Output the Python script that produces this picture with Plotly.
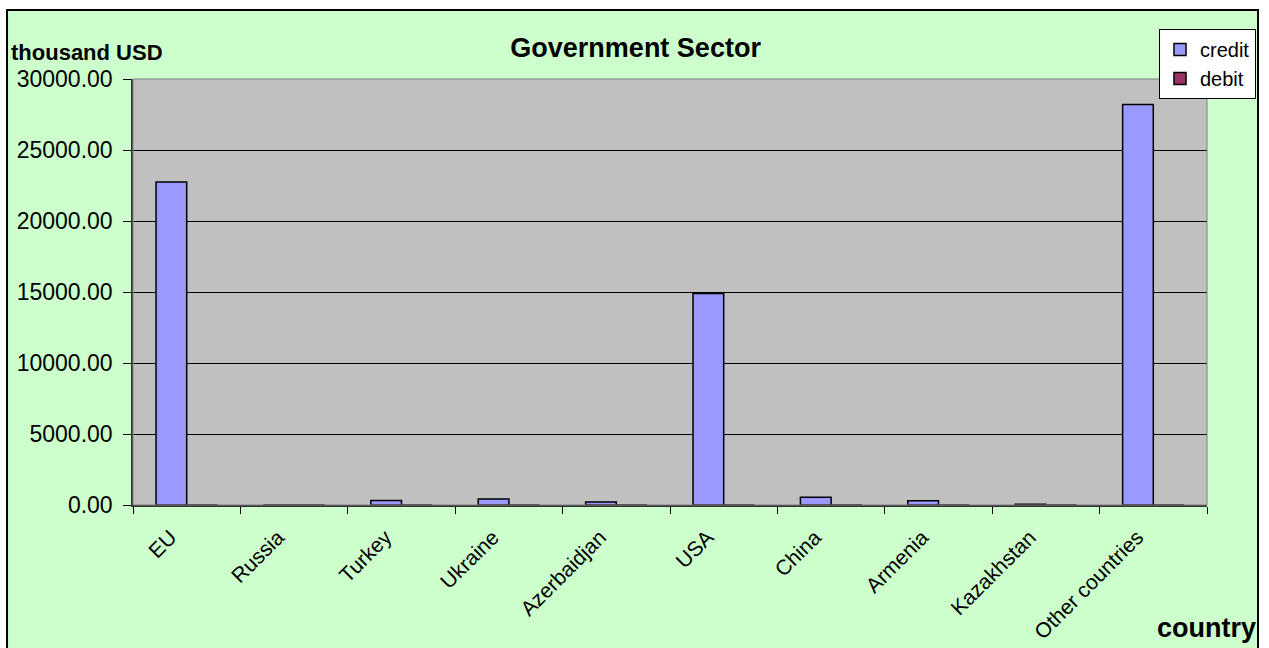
import plotly.graph_objects as go

# Government sector transfers by partner country, thousand USD
countries = ["EU", "Russia", "Turkey", "Ukraine", "Azerbaidjan", "USA",
             "China", "Armenia", "Kazakhstan", "Other countries"]
credit = [22750, 0, 310, 430, 220, 14900, 540, 300, 60, 28200]
debit = [0, 0, 0, 0, 0, 0, 0, 0, 0, 0]

y_ticks = [0, 5000, 10000, 15000, 20000, 25000, 30000]

FONT = "Arial, Liberation Sans, sans-serif"
GREEN = "#CCFFCC"
GREY = "#C0C0C0"

pos = list(range(len(countries)))
label_pos = [p - 0.15 for p in pos]          # labels sit just left of each category centre
boundaries = [p - 0.5 for p in pos] + [pos[-1] + 0.5]

fig = go.Figure()
fig.add_trace(go.Bar(
    name="credit", x=pos, y=credit,
    marker=dict(color="#9999FF", line=dict(color="black", width=1.5)),
))
fig.add_trace(go.Bar(
    name="debit", x=pos, y=debit,
    marker=dict(color="#993366", line=dict(color="black", width=1.5)),
))

shapes = [
    # white surround outside the chart frame
    dict(type="rect", xref="paper", yref="paper", x0=-0.2, x1=1.2, y0=1.162, y1=1.3,
         fillcolor="white", line=dict(width=0), layer="above"),
    dict(type="rect", xref="paper", yref="paper", x0=-0.2, x1=-0.1173, y0=-0.5, y1=1.3,
         fillcolor="white", line=dict(width=0), layer="above"),
    dict(type="rect", xref="paper", yref="paper", x0=1.0475, x1=1.2, y0=-0.5, y1=1.3,
         fillcolor="white", line=dict(width=0), layer="above"),
    # chart frame
    dict(type="rect", xref="paper", yref="paper", x0=-0.1173, x1=1.0475, y0=-0.36, y1=1.162,
         fillcolor="rgba(0,0,0,0)", line=dict(color="black", width=2), layer="above"),
    # plot area border
    dict(type="rect", xref="x domain", yref="y domain", x0=0, x1=1, y0=0, y1=1,
         fillcolor="rgba(0,0,0,0)", line=dict(color="#808080", width=1), layer="above"),
]

annotations = [
    dict(text="<b>thousand USD</b>", xref="paper", yref="paper", x=-0.115, y=1.063,
         xanchor="left", yanchor="middle", showarrow=False,
         font=dict(family=FONT, size=22, color="black")),
    dict(text="<b>country</b>", xref="paper", yref="paper", x=1.0475, y=-0.2887,
         xanchor="right", yanchor="middle", showarrow=False,
         font=dict(family=FONT, size=27, color="black")),
]

fig.update_layout(
    width=1269, height=648,
    margin=dict(l=133, r=62, t=79, b=143, autoexpand=False),
    paper_bgcolor=GREEN,
    plot_bgcolor=GREY,
    barmode="group",
    bargap=0.4286,
    bargroupgap=0,
    font=dict(family=FONT, color="black"),
    title=dict(text="<b>Government Sector</b>", xref="paper", x=0.468,
               yref="container", y=1 - 48 / 648, xanchor="center", yanchor="middle",
               font=dict(family=FONT, size=27, color="black")),
    legend=dict(xref="container", yref="container", x=1159 / 1269, y=1 - 29 / 648,
                xanchor="left", yanchor="top",
                bgcolor="white", bordercolor="black", borderwidth=1,
                font=dict(family=FONT, size=20, color="black")),
    xaxis=dict(range=[-0.5, len(countries) - 0.5],
               tickmode="array", tickvals=label_pos, ticktext=countries,
               ticks="", tickangle=-45, showgrid=False, zeroline=False,
               minor=dict(tickmode="array", tickvals=boundaries, ticks="outside",
                          ticklen=7, tickcolor="black", showgrid=False),
               showline=True, linecolor="#333333", linewidth=1.5,
               ticklabelstandoff=10, automargin=False,
               tickfont=dict(family=FONT, size=21, color="black")),
    yaxis=dict(range=[0, 30000], tickvals=y_ticks, tickformat=".2f",
               ticks="outside", ticklen=8, tickcolor="black",
               showgrid=True, gridcolor="black", gridwidth=1, zeroline=False,
               showline=True, linecolor="#333333", linewidth=1.5,
               ticklabelstandoff=6, automargin=False,
               tickfont=dict(family=FONT, size=23, color="black")),
    shapes=shapes,
    annotations=annotations,
)

fig.write_html("out.html")
